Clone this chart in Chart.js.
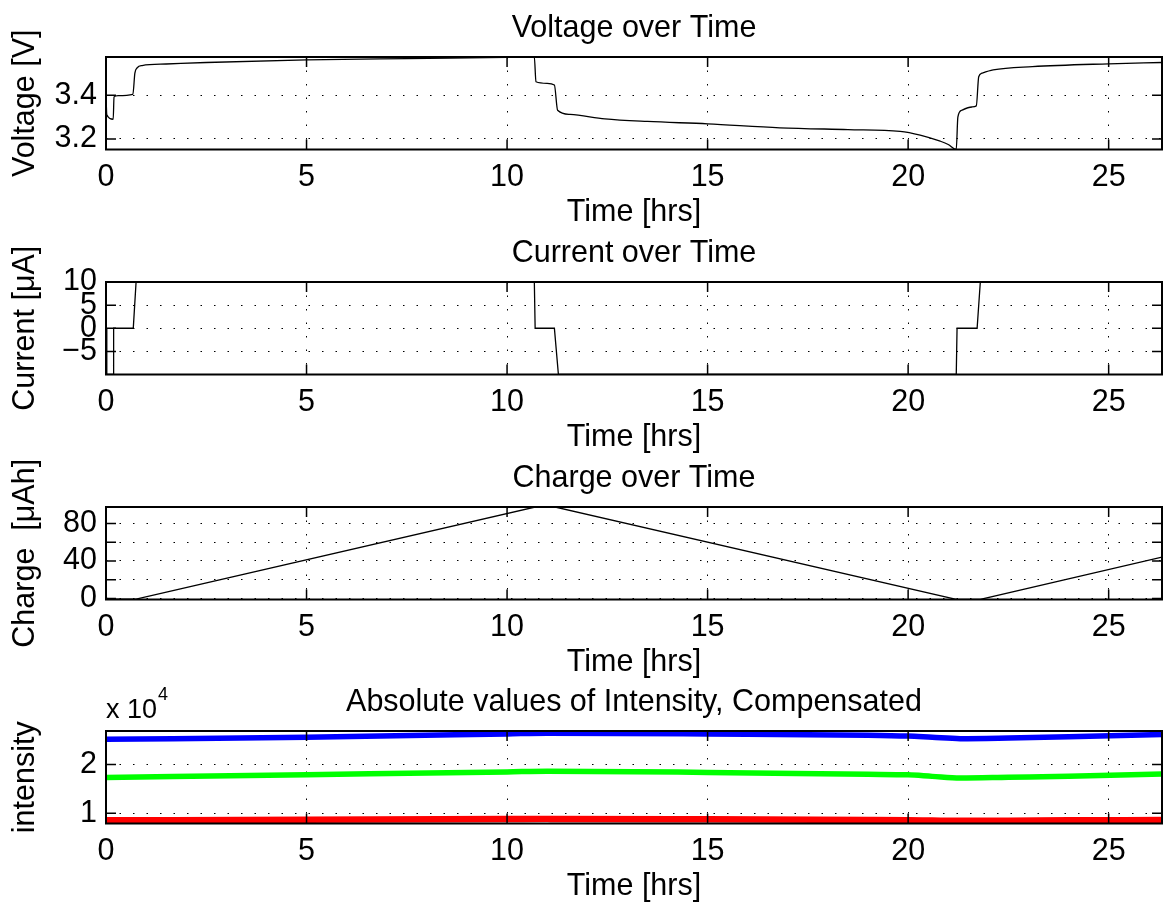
<!DOCTYPE html>
<html>
<head>
<meta charset="utf-8">
<title>Cell test</title>
<script src="https://cdn.jsdelivr.net/npm/chart.js@4/dist/chart.umd.min.js"></script>
<style>
  body { margin: 0; background: #fff; overflow: hidden; }
  /* panels are wider than the window so the titles centre on the plot box */
  .panel { position: absolute; left: 0; width: 1268px; height: 231px; }
</style>
</head>
<body>
<div class="panel" style="top:0px"><canvas id="voltageChart"></canvas></div>
<div class="panel" style="top:225px"><canvas id="currentChart"></canvas></div>
<div class="panel" style="top:450px"><canvas id="chargeChart"></canvas></div>
<div class="panel" style="top:674px"><canvas id="intensityChart"></canvas></div>
<script>
// time axis [hrs]
var timeMax = 26.33;
var timeTicks = [0, 5, 10, 15, 20, 25];

// voltage [V]
var voltageTime = [0, 0.02, 0.18, 0.2, 0.3, 0.67, 0.72, 0.78, 0.9, 1.5,
                   2.5, 5, 7.5, 10, 10.68, 10.72, 11.0, 11.18, 11.26, 11.57,
                   12.44, 13.5, 15, 16.8, 18.5, 19.8, 20.3, 20.8, 21.0, 21.2,
                   21.24, 21.34, 21.59, 21.7, 21.76, 21.84, 22.12, 23.1, 25, 26.33];
var voltageValues = [3.40, 3.31, 3.29, 3.392, 3.398, 3.404, 3.50, 3.525, 3.535, 3.542,
                     3.549, 3.561, 3.567, 3.572, 3.574, 3.461, 3.454, 3.446, 3.331, 3.312,
                     3.292, 3.28, 3.269, 3.251, 3.243, 3.235, 3.218, 3.19, 3.175, 3.152,
                     3.30, 3.331, 3.346, 3.351, 3.484, 3.50, 3.515, 3.53, 3.543, 3.549];
var voltageTicks = [3.2, 3.4];

// current [uA]
var currentTime = [0, 0.02, 0.18, 0.19, 0.68, 0.75, 10.68, 10.7, 11.18, 11.28, 21.2, 21.22, 21.72, 21.8, 26.33];
var currentValues = [0, -10, -10, 0, 0, 10, 10, 0, 0, -10, -10, 0, 0, 10, 10];
var currentTicks = [-5, 0, 5, 10];

// charge [uAh]
var chargeTime = [0, 0.19, 0.75, 10.7, 11.2, 21.2, 21.8, 26.33];
var chargeValues = [0, -0.8, -0.8, 97.5, 97.5, -1.0, -1.0, 44];
var chargeGrid = [0, 20, 40, 60, 80];
var chargeTickLabels = [0, 40, 80];

// intensity, compensated
var intensityTime = [0, 5, 10, 11, 15, 19, 20, 20.6, 21.3, 22.5, 24, 26.33];
var intensityBlue = [25180, 25600, 26300, 26450, 26300, 26050, 25860, 25600, 25320, 25450, 25700, 26200];
var intensityGreen = [17370, 17930, 18500, 18650, 18400, 18000, 17900, 17580, 17240, 17400, 17600, 18070];
var intensityRed = [8550, 8650, 8800, 8850, 8750, 8600, 8550, 8500, 8450, 8480, 8550, 8600];
var intensityTicks = [10000, 20000];

var FONT = "'Liberation Sans', Arial, Helvetica, sans-serif";
var SIZE = 30.5;
Chart.defaults.font.family = FONT;
Chart.defaults.font.size = SIZE;
Chart.defaults.color = '#000';

function toPoints(xs, ys) {
  return xs.map(function (x, i) { return { x: x, y: ys[i] }; });
}

function fixedTicks(values) {
  return function (scale) {
    scale.ticks = values.map(function (v) { return { value: v }; });
  };
}

// box round the axes plus inward tick marks, like matlab
var boxPlugin = {
  id: 'matlabBox',
  afterDraw: function (chart) {
    var a = chart.chartArea, ctx = chart.ctx;
    var xs = chart.scales.x, ys = chart.scales.y;
    ctx.save();
    ctx.strokeStyle = '#000';
    ctx.lineWidth = 1.5;
    ctx.beginPath();
    xs.ticks.forEach(function (t) {
      var px = xs.getPixelForValue(t.value);
      ctx.moveTo(px, a.bottom); ctx.lineTo(px, a.bottom - 10);
      ctx.moveTo(px, a.top); ctx.lineTo(px, a.top + 10);
    });
    ys.ticks.forEach(function (t) {
      var py = ys.getPixelForValue(t.value);
      ctx.moveTo(a.left, py); ctx.lineTo(a.left + 10, py);
      ctx.moveTo(a.right, py); ctx.lineTo(a.right - 10, py);
    });
    ctx.stroke();
    ctx.lineWidth = 2;
    ctx.strokeRect(a.left, a.top, a.right - a.left, a.bottom - a.top);
    ctx.restore();
  }
};

// "x 10^4" multiplier above the intensity axis
var expPlugin = {
  id: 'expLabel',
  afterDraw: function (chart) {
    var a = chart.chartArea, ctx = chart.ctx;
    ctx.save();
    ctx.fillStyle = '#000';
    ctx.textBaseline = 'alphabetic';
    ctx.font = '27px ' + FONT;
    ctx.fillText('x 10', a.left, a.top - 13.5);
    var w = ctx.measureText('x 10').width;
    ctx.font = '18px ' + FONT;
    ctx.fillText('4', a.left + w + 1, a.top - 31);
    ctx.restore();
  }
};

function makeChart(canvasId, titleText, datasets, yTitle, yMin, yMax, yTicks, yLabel, extra) {
  return new Chart(document.getElementById(canvasId), {
    type: 'line',
    data: { datasets: datasets },
    options: {
      responsive: true,
      maintainAspectRatio: false,
      animation: false,
      layout: { padding: 0 },
      elements: { point: { radius: 0 } },
      plugins: {
        legend: { display: false },
        tooltip: { enabled: false },
        title: {
          display: true,
          text: titleText,
          color: '#000',
          font: { size: SIZE, weight: 'normal' },
          padding: { top: 10.5, bottom: 9.9 }
        }
      },
      scales: {
        x: {
          type: 'linear',
          min: 0,
          max: timeMax,
          afterBuildTicks: fixedTicks(timeTicks),
          afterFit: function (s) { s.height = 81.5; },
          ticks: { padding: 9.5, maxRotation: 0, autoSkip: false },
          grid: { color: '#000', lineWidth: 1, drawTicks: false },
          border: { display: false, dash: [1.5, 12] },
          title: { display: true, text: 'Time [hrs]', font: { size: SIZE }, padding: 0 }
        },
        y: {
          type: 'linear',
          min: yMin,
          max: yMax,
          afterBuildTicks: fixedTicks(yTicks),
          afterFit: function (s) { s.width = 106; },
          ticks: { padding: 9, autoSkip: false, callback: yLabel },
          grid: { color: '#000', lineWidth: 1, drawTicks: false },
          border: { display: false, dash: [1.5, 12] },
          title: { display: true, text: yTitle, font: { size: SIZE }, padding: { top: 7.7, bottom: 0 } }
        },
        // empty right-hand spacer, same width as the left axis, keeps the title centred on the box
        spacer: {
          type: 'linear',
          position: 'right',
          min: 0,
          max: 1,
          afterFit: function (s) { s.width = 106; },
          ticks: { display: false },
          grid: { display: false, drawTicks: false },
          border: { display: false }
        }
      }
    },
    plugins: [boxPlugin].concat(extra || [])
  });
}

function blackLine(xs, ys, smooth) {
  var ds = { data: toPoints(xs, ys), borderColor: '#000', borderWidth: 1.3, fill: false, tension: 0 };
  if (smooth) ds.cubicInterpolationMode = 'monotone';
  return ds;
}

makeChart('voltageChart', 'Voltage over Time',
  [blackLine(voltageTime, voltageValues, true)],
  'Voltage [V]', 3.152, 3.574, voltageTicks,
  function (v) { return v.toFixed(1); });

makeChart('currentChart', 'Current over Time',
  [blackLine(currentTime, currentValues)],
  'Current [μA]', -10, 10, currentTicks,
  function (v) { return v < 0 ? '\u2212' + (-v) : String(v); });

makeChart('chargeChart', 'Charge over Time',
  [blackLine(chargeTime, chargeValues)],
  'Charge  [μAh]', -1.1, 97.5, chargeGrid,
  function (v) { return chargeTickLabels.indexOf(v) >= 0 ? String(v) : ''; });

function colourLine(ys, colour, width) {
  return { data: toPoints(intensityTime, ys), borderColor: colour, borderWidth: width,
           fill: false, cubicInterpolationMode: 'monotone' };
}

makeChart('intensityChart', 'Absolute values of Intensity, Compensated',
  [colourLine(intensityBlue, '#0000ff', 5.5),
   colourLine(intensityGreen, '#00ff00', 5.5),
   colourLine(intensityRed, '#ff0000', 6.5)],
  'intensity', 7900, 26900, intensityTicks,
  function (v) { return String(v / 10000); },
  [expPlugin]);
</script>
</body>
</html>
